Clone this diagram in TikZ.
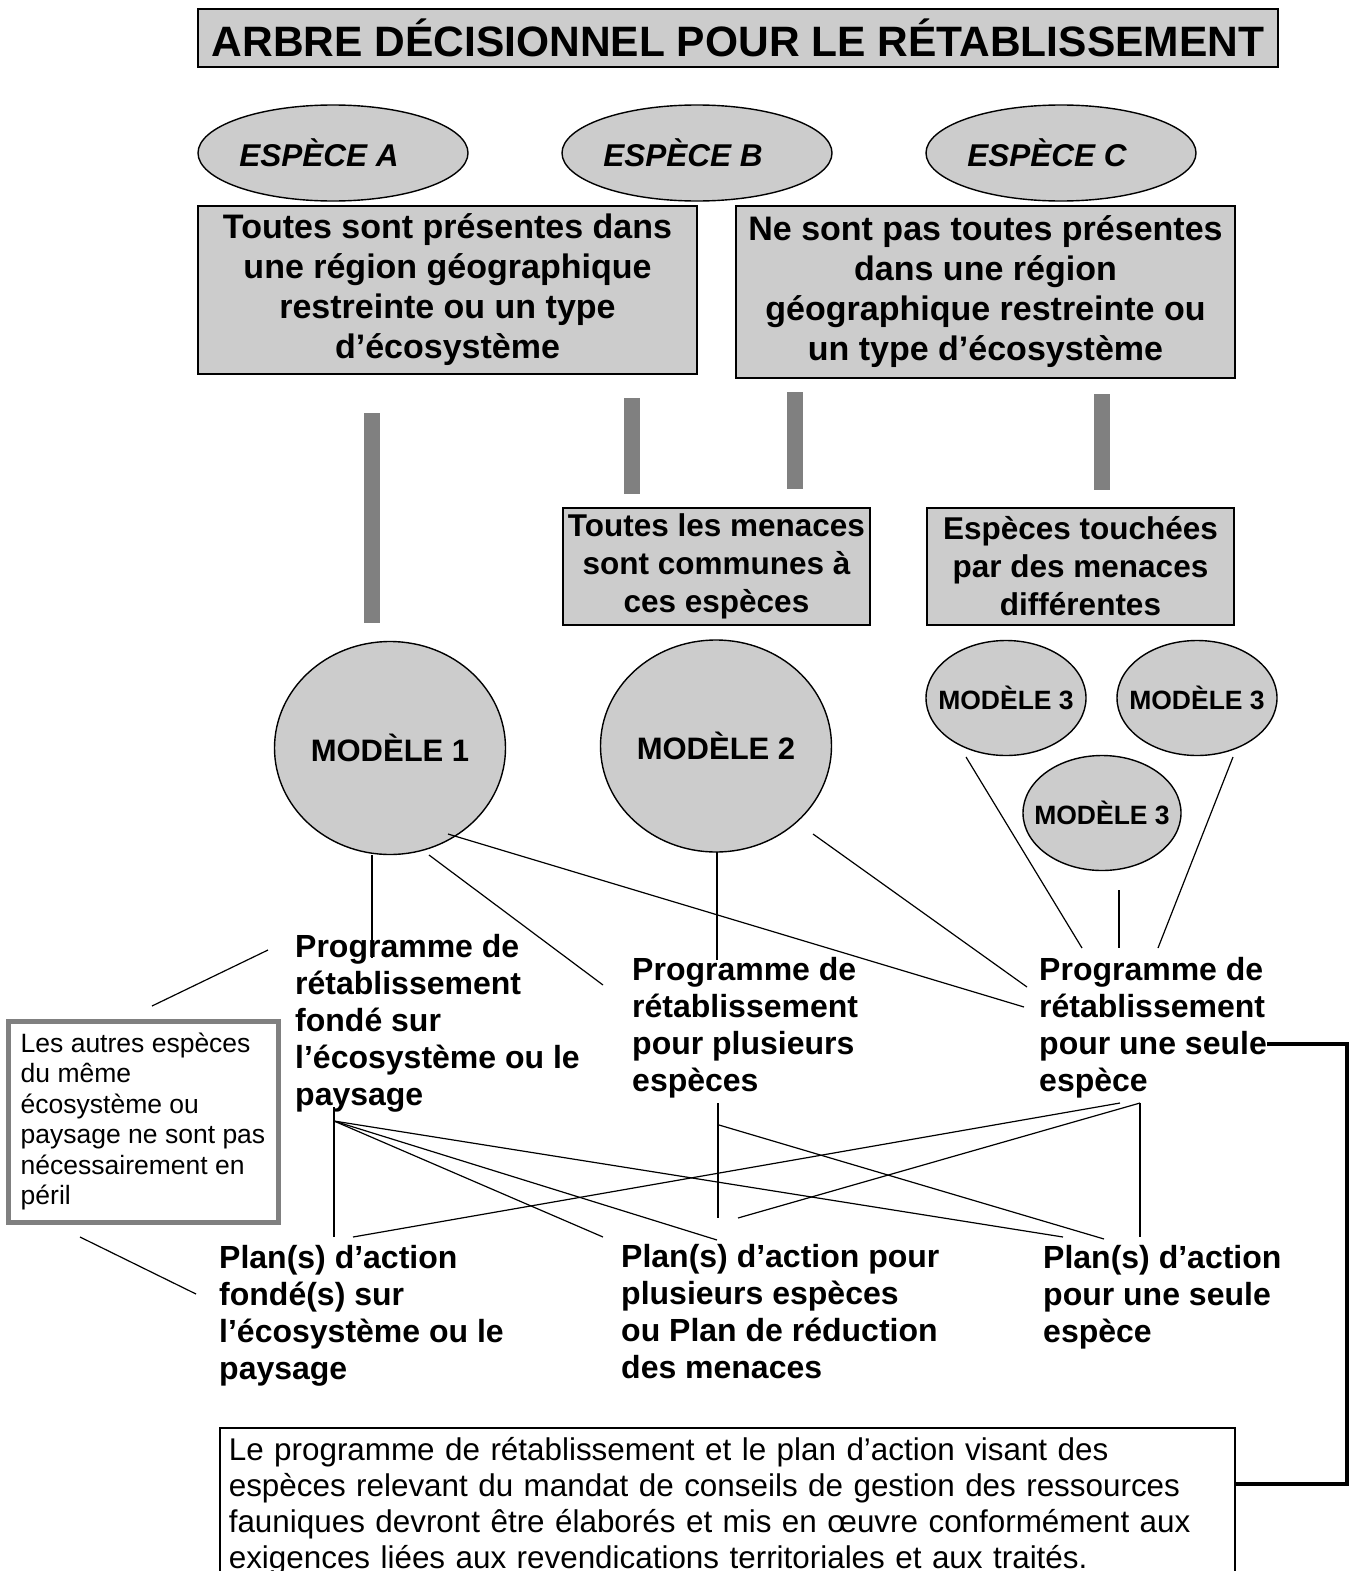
\documentclass[tikz,border=0pt]{standalone}
\usepackage{fontspec}
\setmainfont{Liberation Sans}
\usetikzlibrary{shapes.geometric}

\definecolor{boxgray}{gray}{0.8}
\definecolor{bargray}{gray}{0.5}

\begin{document}
\begin{tikzpicture}[x=1pt,y=-1pt,
	every node/.style={inner sep=0pt},
	titlebox/.style={draw,fill=boxgray,line width=1.6pt,font=\bfseries\fontsize{42.5}{48}\selectfont},
	espece/.style={ellipse,draw,fill=boxgray,line width=1.4pt,minimum width=270pt,minimum height=96pt,font=\bfseries\itshape\fontsize{31.5}{36}\selectfont},
	graybox/.style={draw,fill=boxgray,line width=1.6pt,align=center,minimum width=499pt,font=\bfseries\fontsize{34}{40}\selectfont},
	smallbox/.style={draw,fill=boxgray,line width=1.6pt,align=center,minimum width=307pt,minimum height=117pt,font=\bfseries\fontsize{31.5}{38}\selectfont},
	modele/.style={ellipse,draw,fill=boxgray,line width=1.4pt,font=\bfseries\fontsize{31}{36}\selectfont},
	petitmodele/.style={modele,inner xsep=-14pt,minimum width=160pt,minimum height=115pt,font=\bfseries\fontsize{26.5}{30}\selectfont},
	texte/.style={anchor=north west,align=left,font=\bfseries\fontsize{32}{37}\selectfont},
	fil/.style={line width=1.2pt},
	barre/.style={bargray,line width=16pt},
	crochet/.style={line width=3.5pt}]

\clip (0,0) rectangle (1352,1571);

%title
\node[titlebox,minimum width=1080pt,minimum height=58pt] (titre) at (738,38) {ARBRE DÉCISIONNEL POUR LE RÉTABLISSEMENT};

%species
\node[espece] (espA) at (333,153) {ESPÈCE A\hspace*{28pt}};
\node[espece] (espB) at (697,153) {ESPÈCE B\hspace*{28pt}};
\node[espece] (espC) at (1061,153) {ESPÈCE C\hspace*{28pt}};

%first split
\node[graybox,minimum height=168pt] (toutes) at (447.5,290) {Toutes sont présentes dans\\une région géographique\\restreinte ou un type\\d’écosystème};
\node[graybox,minimum height=172pt] (pastoutes) at (985.5,292) {Ne sont pas toutes présentes\\dans une région\\géographique restreinte ou\\un type d’écosystème};

\node[smallbox] (communes) at (716.5,566.5) {Toutes les menaces\\sont communes à\\ces espèces};
\node[smallbox] (differentes) at (1080.5,566.5) {Espèces touchées\\par des menaces\\différentes};

%gray bars
\foreach \n/\x/\ya/\yb in {1/372/413/623, 2/632/398/494, 3/795/392/489, 4/1102/394/490}{
	\coordinate (h\n) at (\x,\ya);
	\coordinate (l\n) at (\x,\yb);
	\draw[barre] (h\n) -- (l\n);
}

%models
\node[modele,minimum width=231pt,minimum height=213pt] (m1) at (390,748) {MODÈLE 1};
\node[modele,minimum width=231pt,minimum height=212pt] (m2) at (716,746) {MODÈLE 2};
\node[petitmodele] (m3a) at (1006,698) {MODÈLE 3};
\node[petitmodele] (m3b) at (1197,698) {MODÈLE 3};
\node[petitmodele,minimum width=158pt] (m3c) at (1102,813) {MODÈLE 3};

%programmes
\node[texte] (pg1) at (295,934) {Programme de\\rétablissement\\fondé sur\\l’écosystème ou le\\paysage};
\node[texte] (pg2) at (632,957) {Programme de\\rétablissement\\pour plusieurs\\espèces};
\node[texte] (pg3) at (1039,957) {Programme de\\rétablissement\\pour une seule\\espèce};

%plans
\node[texte] (pa1) at (219,1245) {Plan(s) d’action\\fondé(s) sur\\l’écosystème ou le\\paysage};
\node[texte] (pa2) at (621,1244) {Plan(s) d’action pour\\plusieurs espèces\\ou Plan de réduction\\des menaces};
\node[texte] (pa3) at (1043,1245) {Plan(s) d’action\\pour une seule\\espèce};

%note
\node[draw=bargray,line width=5pt,fill=white,minimum width=270pt,minimum height=201pt,align=left,font=\fontsize{26.5}{30.5}\selectfont] (autres) at (143,1121.5) {Les autres espèces\\du même\\écosystème ou\\paysage ne sont pas\\nécessairement en\\péril};

%bottom box
\node[draw,line width=1.6pt,anchor=north west,inner xsep=9pt,inner ysep=10pt,text width=997pt,align=left,font=\fontsize{31.4}{36}\selectfont] (traites) at (219,1427) {Le programme de rétablissement et le plan d’action visant des\\espèces relevant du mandat de conseils de gestion des ressources\\fauniques devront être élaborés et mis en œuvre conformément aux\\exigences liées aux revendications territoriales et aux traités.};

%lines
\foreach \i/\xa/\ya/\xb/\yb in {1/372/855/372/958, 2/429/855/603/985, 3/448/834/1024/1007,
	4/717/852/717/960, 5/813/834/1027/987, 6/966/757/1082/948, 7/1119/890/1119/948,
	8/1233/757/1158/948, 9/268/950/152/1006, 10/80/1237/196/1294,
	11/334/1107/334/1237, 12/334/1121/1063/1237, 13/334/1121/717/1240, 14/334/1121/603/1237,
	15/718/1103/718/1218, 16/719/1125/1104/1239, 17/1120/1103/353/1237,
	18/1140/1103/738/1218, 19/1140/1103/1140/1237}{
	\coordinate (a\i) at (\xa,\ya);
	\coordinate (b\i) at (\xb,\yb);
	\draw[fil] (a\i) -- (b\i);
}

%bracket
\coordinate (c1) at (1267,1044);
\coordinate (c2) at (1347,1044);
\coordinate (c3) at (1235,1484);
\draw[crochet] (c1) -- (c2) |- (c3);
\end{tikzpicture}
\end{document}
